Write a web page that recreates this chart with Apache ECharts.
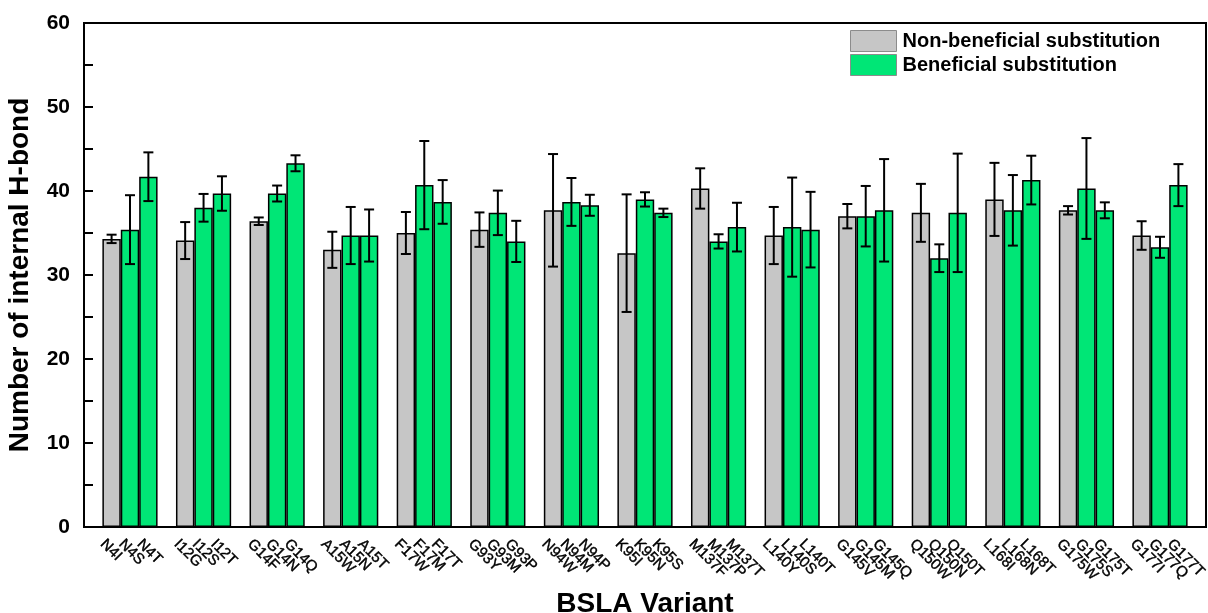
<!DOCTYPE html>
<html>
<head>
<meta charset="utf-8">
<title>BSLA internal H-bonds</title>
<script src="https://cdn.jsdelivr.net/npm/echarts@6/dist/echarts.min.js"></script>
<style>
  html, body { margin: 0; padding: 0; background: #fff; }
  #chart { width: 1208px; height: 613px; }
</style>
</head>
<body>
<div id="chart"></div>
<script>
// Residue sites; each site has one non-beneficial and two beneficial substitutions
const sites = ['N4', 'I12', 'G14', 'A15', 'F17', 'G93', 'N94', 'K95', 'M137', 'L140', 'G145', 'Q150', 'L168', 'G175', 'G177'];

const nonBeneficialLabels = ['N4I', 'I12G', 'G14F', 'A15W', 'F17W', 'G93Y', 'N94W', 'K95I', 'M137F', 'L140Y', 'G145V', 'Q150W', 'L168I', 'G175W', 'G177I'];
const nonBeneficialMean = [34.3, 34.1, 36.4, 33.0, 35.0, 35.4, 37.7, 32.6, 40.3, 34.7, 37.0, 37.4, 39.0, 37.7, 34.7];
const nonBeneficialErr = [0.5, 2.2, 0.45, 2.15, 2.5, 2.05, 6.7, 7.0, 2.4, 3.4, 1.45, 3.45, 4.35, 0.5, 1.7];

const beneficialLabels = ['N4S', 'N4T', 'I12S', 'I12T', 'G14N', 'G14Q', 'A15N', 'A15T', 'F17M', 'F17T',
  'G93M', 'G93P', 'N94M', 'N94P', 'K95N', 'K95S', 'M137P', 'M137T', 'L140S', 'L140T',
  'G145M', 'G145Q', 'Q150N', 'Q150T', 'L168N', 'L168T', 'G175S', 'G175T', 'G177Q', 'G177T'];
const beneficialMean = [35.4, 41.7, 38.0, 39.7, 39.7, 43.3, 34.7, 34.7, 40.7, 38.7,
  37.4, 34.0, 38.7, 38.3, 39.0, 37.4, 34.0, 35.7, 35.7, 35.4,
  37.0, 37.7, 32.0, 37.4, 37.7, 41.3, 40.3, 37.7, 33.3, 40.7];
const beneficialErr = [4.1, 2.9, 1.65, 2.05, 0.95, 0.95, 3.4, 3.1, 5.25, 2.6,
  2.65, 2.45, 2.85, 1.25, 0.85, 0.5, 0.85, 2.9, 5.9, 4.5,
  3.6, 6.1, 1.65, 7.05, 4.2, 2.9, 6.0, 0.95, 1.25, 2.5];

const yTicks = [0, 10, 20, 30, 40, 50, 60];

// Lay the bars out on one category axis: an empty slot before, between and after the sites
const categories = [''];
const grayData = ['-'];
const greenData = ['-'];
const errData = [];
sites.forEach((s, g) => {
  categories.push(nonBeneficialLabels[g]);
  grayData.push(nonBeneficialMean[g]);
  greenData.push('-');
  errData.push([categories.length - 1, nonBeneficialMean[g] - nonBeneficialErr[g], nonBeneficialMean[g] + nonBeneficialErr[g]]);
  for (let k = 0; k < 2; k++) {
    const i = g * 2 + k;
    categories.push(beneficialLabels[i]);
    grayData.push('-');
    greenData.push(beneficialMean[i]);
    errData.push([categories.length - 1, beneficialMean[i] - beneficialErr[i], beneficialMean[i] + beneficialErr[i]]);
  }
  categories.push('');
  grayData.push('-');
  greenData.push('-');
});

const FONT = '"Liberation Sans", Arial, Helvetica, sans-serif';
const chart = echarts.init(document.getElementById('chart'), null, { renderer: 'canvas' });

chart.setOption({
  animation: false,
  backgroundColor: '#ffffff',
  textStyle: { fontFamily: FONT, color: '#000' },
  grid: {
    left: 84, right: 2, top: 23, bottom: 86,
    outerBoundsMode: 'none',
    containLabel: false,
    show: true, borderColor: '#000', borderWidth: 2, backgroundColor: 'transparent'
  },
  legend: {
    orient: 'vertical',
    left: 845, top: 25,
    itemWidth: 46, itemHeight: 21, itemGap: 2,
    icon: 'rect',
    itemStyle: { borderColor: '#8c8c8c', borderWidth: 1 },
    textStyle: { fontFamily: FONT, fontSize: 20, fontWeight: 'bold', color: '#000', padding: [0, 0, 0, 1] },
    data: ['Non-beneficial substitution', 'Beneficial substitution']
  },
  xAxis: {
    type: 'category',
    data: categories,
    boundaryGap: true,
    name: 'BSLA Variant',
    nameLocation: 'middle',
    nameGap: 56,
    nameTextStyle: { fontFamily: FONT, fontSize: 28, fontWeight: 'bold', color: '#000' },
    axisLine: { lineStyle: { color: '#000', width: 2 } },
    axisTick: { show: false },
    axisLabel: {
      interval: 0, rotate: -45, margin: 6,
      verticalAlign: 'top', padding: [5, 0, 0, 0],
      fontFamily: FONT, fontSize: 15, color: '#000',
      textBorderColor: '#000', textBorderWidth: 0.4
    },
    splitLine: { show: false }
  },
  yAxis: {
    type: 'value',
    min: yTicks[0], max: yTicks[yTicks.length - 1], interval: 10,
    name: 'Number of internal H-bond',
    nameLocation: 'middle',
    nameGap: 50,
    nameTextStyle: { fontFamily: FONT, fontSize: 28, fontWeight: 'bold', color: '#000' },
    axisLine: { show: true, lineStyle: { color: '#000', width: 2 } },
    axisTick: { show: true, inside: true, length: 9, lineStyle: { color: '#000', width: 2 } },
    minorTick: { show: true, splitNumber: 2, length: 9, lineStyle: { color: '#000', width: 2 } },
    axisLabel: { margin: 14, fontFamily: FONT, fontSize: 21, fontWeight: 'bold', color: '#000' },
    splitLine: { show: false }
  },
  series: [
    {
      name: 'Non-beneficial substitution',
      type: 'bar',
      data: grayData,
      barWidth: '100%',
      barGap: '-100%',
      itemStyle: { color: '#c6c6c6', borderColor: '#000', borderWidth: 1.5 },
      z: 2
    },
    {
      name: 'Beneficial substitution',
      type: 'bar',
      data: greenData,
      barWidth: '100%',
      barGap: '-100%',
      itemStyle: { color: '#00e676', borderColor: '#000', borderWidth: 1.5 },
      z: 2
    },
    {
      type: 'custom',
      name: 'error',
      data: errData,
      z: 5,
      silent: true,
      renderItem: function (params, api) {
        const x = api.value(0);
        const lo = api.coord([x, api.value(1)]);
        const hi = api.coord([x, api.value(2)]);
        const half = 5;
        const style = { stroke: '#000', lineWidth: 2, fill: null };
        return {
          type: 'group',
          children: [
            { type: 'line', shape: { x1: hi[0], y1: hi[1], x2: lo[0], y2: lo[1] }, style: style },
            { type: 'line', shape: { x1: hi[0] - half, y1: hi[1], x2: hi[0] + half, y2: hi[1] }, style: style },
            { type: 'line', shape: { x1: lo[0] - half, y1: lo[1], x2: lo[0] + half, y2: lo[1] }, style: style }
          ]
        };
      },
      encode: { x: 0, y: [1, 2] }
    }
  ]
});
</script>
</body>
</html>
